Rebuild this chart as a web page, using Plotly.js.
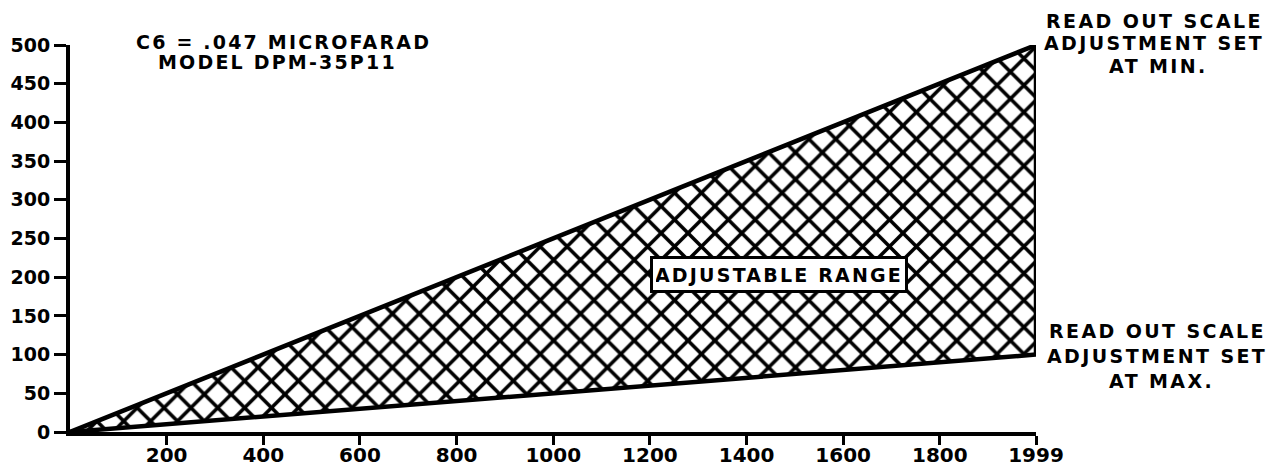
<!DOCTYPE html>
<html>
<head>
<meta charset="utf-8">
<script src="https://cdn.plot.ly/plotly-3.0.1.min.js"></script>
<style>
  html, body { margin: 0; padding: 0; background: #fff; }
  #chart { width: 1276px; height: 469px; }
</style>
</head>
<body>
<div id="chart"></div>
<script>
// ---- data ----
const readingX = [0, 1999];            // displayed reading (counts)
const minSetY = [0, 500];              // read out scale adjustment set at MIN.
const maxSetY = [0, 100];              // read out scale adjustment set at MAX.
const xTickVals = [200, 400, 600, 800, 1000, 1200, 1400, 1600, 1800, 1999];
const xTickText = ['200', '400', '600', '800', '1000', '1200', '1400', '1600', '1800', '1999'];
const yTickVals = [0, 50, 100, 150, 200, 250, 300, 350, 400, 450, 500];
const yTickText = ['0', '50', '100', '150', '200', '250', '300', '350', '400', '450', '500'];

// ---- layout helpers ----
const W = 1276, H = 469;
const M = { l: 70, r: 240, t: 45, b: 37 };
const PW = W - M.l - M.r, PH = H - M.t - M.b;
const px = v => (v - M.l) / PW;
const py = v => (H - M.b - v) / PH;
const FONT = 'DejaVu Sans';
const sp = (t, ls) => '<span style="letter-spacing:' + ls + 'px">' + t + '</span>';

const lineStyle = { color: '#000', width: 4.5 };

const traces = [
  {
    x: readingX, y: maxSetY, mode: 'lines', line: lineStyle,
    cliponaxis: false, showlegend: false, hoverinfo: 'skip'
  },
  {
    x: readingX, y: minSetY, mode: 'lines', line: lineStyle,
    fill: 'tonexty', fillcolor: '#fff',
    fillpattern: { shape: 'x', size: 19, solidity: 0.34, fgcolor: '#000', bgcolor: '#fff', fgopacity: 1 },
    cliponaxis: false, showlegend: false, hoverinfo: 'skip'
  },
  {
    x: [readingX[1], readingX[1]], y: [maxSetY[1], minSetY[1]], mode: 'lines', line: lineStyle,
    cliponaxis: false, showlegend: false, hoverinfo: 'skip'
  }
];

const annFont = { family: FONT, size: 19, color: '#000', weight: 'bold' };
function ann(text, xPix, yPix, ls, extra) {
  return Object.assign({
    text: sp(text, ls), xref: 'paper', yref: 'paper',
    x: px(xPix), y: py(yPix), xanchor: 'center', yanchor: 'middle',
    showarrow: false, font: annFont
  }, extra || {});
}

const layout = {
  width: W, height: H,
  margin: M,
  paper_bgcolor: '#fff', plot_bgcolor: '#fff',
  showlegend: false,
  hovermode: false,
  xaxis: {
    range: [0, 1999], showgrid: false, zeroline: false,
    showline: true, linecolor: '#000', linewidth: 4,
    tickmode: 'array', tickvals: xTickVals, ticktext: xTickText,
    ticks: 'outside', ticklen: 9, tickwidth: 3, tickcolor: '#000',
    ticklabelstandoff: -7,
    tickfont: { family: FONT, size: 20, color: '#000', weight: 'bold' }
  },
  yaxis: {
    range: [0, 500], showgrid: false, zeroline: false,
    showline: true, linecolor: '#000', linewidth: 4,
    tickmode: 'array', tickvals: yTickVals, ticktext: yTickText,
    ticks: 'outside', ticklen: 12, tickwidth: 3, tickcolor: '#000',
    tickfont: { family: FONT, size: 19, color: '#000', weight: 'bold' }
  },
  annotations: [
    ann('C6 = .047 MICROFARAD', 283, 42, 2.2),
    ann('MODEL DPM-35P11', 277, 62, 2.2),
    ann('READ OUT SCALE', 1154, 21, 2.4),
    ann('ADJUSTMENT SET', 1154, 43, 2.4),
    ann('AT MIN.', 1158, 66, 2.4),
    ann('READ OUT SCALE', 1157, 331, 2.4),
    ann('ADJUSTMENT SET', 1157, 356, 2.4),
    ann('AT MAX.', 1161, 381, 2.4),
    ann('ADJUSTABLE RANGE', 779, 274, 2.2, {
      bgcolor: '#fff', bordercolor: '#000', borderwidth: 3, borderpad: 3,
      width: 246, height: 25
    })
  ]
};

Plotly.newPlot('chart', traces, layout, { displayModeBar: false, staticPlot: true });
</script>
</body>
</html>
